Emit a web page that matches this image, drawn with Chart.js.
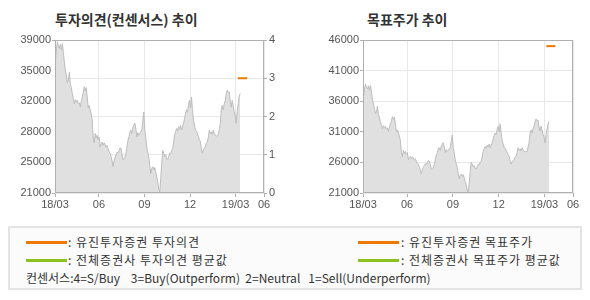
<!DOCTYPE html>
<html>
<head>
<meta charset="utf-8">
<script src="https://cdn.jsdelivr.net/npm/chart.js@4.4.1/dist/chart.umd.min.js"></script>
<style>
  body { margin: 0; background: #fff; font-family: "Noto Sans CJK KR", sans-serif; }
  #wrap { position: relative; width: 590px; height: 300px; overflow: hidden; }
  .title { position: absolute; top: 9px; font-size: 14px; font-weight: bold; color: #333; white-space: nowrap; }
  .box { position: absolute; }
  #legend { position: absolute; left: 8px; top: 226px; width: 570px; height: 60px; border: 2px solid #e4e4e4; background: #fbfbfb; }
  .item { position: absolute; font-size: 12px; color: #333; white-space: pre; line-height: 14px; }
  .kr { letter-spacing: 1px; }
  .swatch { position: absolute; width: 41px; height: 3px; }
</style>
</head>
<body>
<div id="wrap">
  <div class="title" style="left:55px">투자의견(컨센서스) 추이</div>
  <div class="title" style="left:367px">목표주가 추이</div>
  <div class="box" style="left:0;top:30px"><canvas id="chartOpinion" width="300" height="186"></canvas></div>
  <div class="box" style="left:300px;top:30px"><canvas id="chartTarget" width="290" height="186"></canvas></div>
  <div id="legend">
    <div class="swatch" style="left:16px;top:13px;background:#f07800"></div>
    <div class="item kr" style="left:58px;top:7px">: 유진투자증권 투자의견</div>
    <div class="swatch" style="left:16px;top:31px;background:#8cc21e"></div>
    <div class="item kr" style="left:58px;top:25px">: 전체증권사 투자의견 평균값</div>
    <div class="swatch" style="left:348px;top:13px;background:#f07800"></div>
    <div class="item kr" style="left:391px;top:7px">: 유진투자증권 목표주가</div>
    <div class="swatch" style="left:348px;top:31px;background:#8cc21e"></div>
    <div class="item kr" style="left:391px;top:25px">: 전체증권사 목표주가 평균값</div>
    <div class="item" style="left:16px;top:43px">컨센서스:4=S/Buy    3=Buy(Outperform)  2=Neutral   1=Sell(Underperform)</div>
  </div>
</div>
<script>
// 주가 (18/03 ~ 19/03)
const prices = [
  36500, 38000, 38800, 38300, 38000, 38500, 37800, 38600, 37500, 36300,
  35500, 34800, 34000, 34300, 35200, 33800, 33400, 32700, 32000, 31500,
  32000, 31700, 31900, 31500, 31600, 31100, 31800, 32300, 32800, 33500,
  33000, 33400, 32300, 31000, 31300, 30800, 30300, 29600, 27600, 26900,
  28000, 27500, 27800, 27300, 27600, 26400, 26800, 27000, 26600, 26900,
  26700, 26400, 26600, 26200, 25900, 25700, 25300, 24800, 24100, 24800,
  25200, 25500, 25800, 25700, 26000, 26300, 26200, 25600, 24900, 25000,
  25200, 25700, 26400, 27200, 27600, 28200, 28400, 28000, 28700, 29000,
  29200, 28500, 27600, 28100, 27800, 28000, 28200, 28400, 29500, 30500,
  28400, 27500, 26400, 25800, 25200, 24200, 23300, 23900, 24100, 23700,
  24000, 23500, 22900, 22300, 21500, 21100, 22700, 24500, 26000, 25700,
  25300, 25500, 25000, 24900, 25300, 25700, 25600, 26000, 26200, 27000,
  27800, 28200, 28600, 28300, 28800, 28500, 29000, 28400, 28800, 29200,
  29800, 30400, 30800, 30500, 31400, 31900, 31000, 32300, 30800, 29600,
  29000, 28400, 28300, 28000, 27600, 27300, 27000, 26200, 25700, 26100,
  26300, 26500, 26900, 27000, 27600, 28400, 28000, 28200, 27900, 28400,
  28000, 27800, 27700, 27800, 27800, 28500, 29200, 30800, 31300, 30800,
  31500, 31900, 32700, 33100, 32800, 32900, 31800, 31100, 31900, 31300,
  30600, 30100, 29200, 30600, 31500, 32300, 32700
];
// 기간 (2018/03 = 0, 개월 단위)
const priceStartMonth = 0.14;
const priceEndMonth = 12.3;
const axisMinMonth = 0.11;
const axisMaxMonth = 13.87;
const monthTicks = [3, 6, 9, 12];
const xTickLabels = ['18/03', '06', '09', '12', '19/03', '06'];

// 유진투자증권 투자의견 / 목표주가
const opinionMonths = [12.15, 12.76];
const opinionValues = [3, 3];
const targetMonths = [12.12, 12.72];
const targetValues = [45000, 45000];

// 축 눈금
const priceTicksLeft = [21000, 24600, 28200, 31800, 35400, 39000];
const priceTickLabelsLeft = ['21000', '25000', '28000', '32000', '35000', '39000'];
const opinionTicks = [0, 1, 2, 3, 4];
const targetTicks = [21000, 26000, 31000, 36000, 41000, 46000];

const step = (priceEndMonth - priceStartMonth) / (prices.length - 1);
const pricePoints = prices.map((v, i) => ({ x: priceStartMonth + i * step, y: v }));
const opinionPoints = opinionValues.map((v, i) => ({ x: opinionMonths[i], y: v }));
const targetPoints = targetValues.map((v, i) => ({ x: targetMonths[i], y: v }));

const tickFont = { family: '"Liberation Sans", Arial, sans-serif', size: 11 };
const tickColor = '#555';
const gridColor = '#e8e8e8';
const axisColor = '#b0b0b0';

// 차트 테두리
const framePlugin = {
  id: 'frame',
  afterDatasetsDraw(chart) {
    const a = chart.chartArea;
    const c = chart.ctx;
    c.save();
    c.strokeStyle = axisColor;
    c.lineWidth = 1;
    c.strokeRect(Math.round(a.left) + 0.5, Math.round(a.top) + 0.5, Math.round(a.right - a.left) - 1, Math.round(a.bottom - a.top) - 1);
    c.restore();
  }
};

function xScale() {
  return {
    type: 'linear',
    min: axisMinMonth,
    max: axisMaxMonth,
    afterBuildTicks: s => {
      s.ticks = [axisMinMonth, ...monthTicks, axisMaxMonth].map(v => ({ value: v }));
    },
    afterFit: s => { s.height = 23; },
    border: { display: false },
    grid: { color: gridColor, tickColor: axisColor, tickLength: 4 },
    ticks: {
      autoSkip: false, maxRotation: 0, padding: 1,
      font: tickFont, color: tickColor,
      callback: (v, i) => xTickLabels[i]
    }
  };
}

function priceDataset(yAxisID) {
  return {
    data: pricePoints,
    yAxisID: yAxisID,
    borderColor: '#bdbdbd',
    backgroundColor: '#e0e0e0',
    borderWidth: 1,
    fill: 'start',
    pointRadius: 0,
    tension: 0,
    order: 2
  };
}

new Chart(document.getElementById('chartOpinion'), {
  type: 'line',
  data: {
    datasets: [
      priceDataset('y'),
      {
        data: opinionPoints,
        yAxisID: 'y1',
        borderColor: '#f07800',
        borderWidth: 2,
        pointRadius: 0,
        fill: false,
        order: 1
      }
    ]
  },
  options: {
    responsive: false,
    animation: false,
    events: [],
    layout: { padding: { top: 10, right: 0, left: 0, bottom: 0 } },
    plugins: { legend: { display: false }, tooltip: { enabled: false } },
    scales: {
      x: xScale(),
      y: {
        type: 'linear',
        position: 'left',
        min: priceTicksLeft[0],
        max: priceTicksLeft[priceTicksLeft.length - 1],
        afterBuildTicks: s => { s.ticks = priceTicksLeft.map(v => ({ value: v })); },
        afterFit: s => { s.width = 55; },
        border: { display: false },
        grid: {
          drawOnChartArea: false,
          tickLength: 3,
          tickColor: c => (c.index === 0 || c.index === priceTicksLeft.length - 1) ? axisColor : 'rgba(0,0,0,0)'
        },
        ticks: {
          autoSkip: false, padding: 1, font: tickFont, color: tickColor,
          callback: (v, i) => priceTickLabelsLeft[i]
        }
      },
      y1: {
        type: 'linear',
        position: 'right',
        min: opinionTicks[0],
        max: opinionTicks[opinionTicks.length - 1],
        afterBuildTicks: s => { s.ticks = opinionTicks.map(v => ({ value: v })); },
        afterFit: s => { s.width = 36; },
        border: { display: false },
        grid: { color: gridColor, tickColor: axisColor, tickLength: 3 },
        ticks: { autoSkip: false, padding: 2, font: tickFont, color: tickColor }
      }
    }
  },
  plugins: [framePlugin]
});

new Chart(document.getElementById('chartTarget'), {
  type: 'line',
  data: {
    datasets: [
      priceDataset('y'),
      {
        data: targetPoints,
        yAxisID: 'y',
        borderColor: '#f07800',
        borderWidth: 2,
        pointRadius: 0,
        fill: false,
        order: 1
      }
    ]
  },
  options: {
    responsive: false,
    animation: false,
    events: [],
    layout: { padding: { top: 10, right: 17, left: 0, bottom: 0 } },
    plugins: { legend: { display: false }, tooltip: { enabled: false } },
    scales: {
      x: xScale(),
      y: {
        type: 'linear',
        position: 'left',
        min: targetTicks[0],
        max: targetTicks[targetTicks.length - 1],
        afterBuildTicks: s => { s.ticks = targetTicks.map(v => ({ value: v })); },
        afterFit: s => { s.width = 63; },
        border: { display: false },
        grid: { color: gridColor, tickColor: axisColor, tickLength: 3 },
        ticks: {
          autoSkip: false, padding: 1, font: tickFont, color: tickColor,
          callback: v => String(v)
        }
      }
    }
  },
  plugins: [framePlugin]
});
</script>
</body>
</html>
